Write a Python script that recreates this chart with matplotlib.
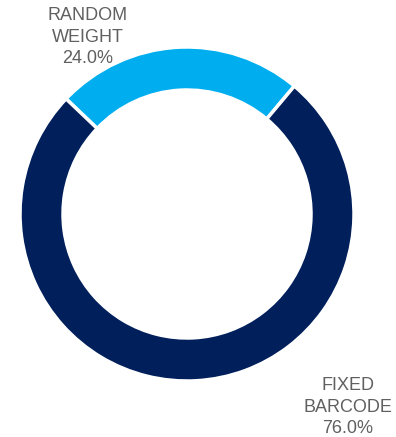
import matplotlib.pyplot as plt

labels = ['RANDOM\nWEIGHT', 'FIXED\nBARCODE']
shares = [24.0, 76.0]
colors = ['#00AEEF', '#001F5B']

plt.rcParams['font.family'] = ['Liberation Sans', 'DejaVu Sans']

fig = plt.figure(figsize=(3.96, 4.37), dpi=100)
ax = fig.add_axes([0, 0, 1, 1])

ax.pie(shares, colors=colors, startangle=50, counterclock=True,
       center=(187, 223), radius=167,
       wedgeprops=dict(width=43, edgecolor='white', linewidth=2.5))

# pie() resets the limits, so set them afterwards (pixel-like units)
ax.set_xlim(0, 396)
ax.set_ylim(0, 437)
ax.set_aspect('equal')
ax.axis('off')

# labels outside the ring
pos = [(88, 400), (348, 30)]
for lab, v, (x, y) in zip(labels, shares, pos):
    ax.text(x, y, '%s\n%.1f%%' % (lab, v), ha='center', va='center',
            fontsize=13, color='#606060', linespacing=1.38)

fig.savefig('out.png', dpi=100)
